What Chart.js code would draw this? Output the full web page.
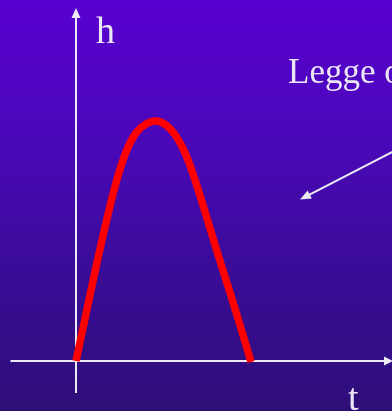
<!DOCTYPE html>
<html>
<head>
<meta charset="utf-8">
<script src="https://cdn.jsdelivr.net/npm/chart.js@4/dist/chart.umd.min.js"></script>
<style>
html,body{margin:0;padding:0;width:392px;height:411px;overflow:hidden;}
body{background:linear-gradient(to bottom,#5800d0 0%,#4a08b8 35%,#3a0c98 65%,#2e0e78 100%);position:relative;font-family:"Liberation Serif","DejaVu Serif",serif;color:#ebe6f5;}
#wrap{position:absolute;left:0;top:0;width:392px;height:411px;}
.lbl{position:absolute;line-height:1;white-space:nowrap;}
</style>
</head>
<body>
<div id="wrap"><canvas id="c" width="392" height="411"></canvas></div>
<div class="lbl" style="left:96px;top:11px;font-size:38px;">h</div>
<div class="lbl" style="left:348px;top:378px;font-size:38px;">t</div>
<div class="lbl" style="left:288px;top:54px;font-size:35px;">Legge oraria</div>
<script>
// time values (arbitrary units) and height values of the curve
const tValues = [0, 1, 2, 3, 4, 5, 6, 7, 8, 9, 10, 11, 12, 13, 14, 15, 16, 17, 17.5];
const hValues = [0, 4.7, 9.4, 13.8, 17.8, 20.9, 22.8, 23.7, 24.0, 23.6, 22.5, 20.6, 17.8, 14.6, 11.3, 8.1, 4.9, 1.6, -0.1];

const points = tValues.map((t, i) => ({x: t, y: hValues[i]}));

const axesPlugin = {
  id: 'axesArrows',
  beforeDatasetsDraw(chart) {
    const ctx = chart.ctx;
    const xs = chart.scales.x, ys = chart.scales.y;
    const ox = xs.getPixelForValue(0), oy = ys.getPixelForValue(0);
    const W = chart.width;
    ctx.save();
    ctx.strokeStyle = '#ecebf4';
    ctx.fillStyle = '#ecebf4';
    ctx.lineWidth = 2;
    // y axis
    ctx.beginPath();
    ctx.moveTo(ox, oy + 32);
    ctx.lineTo(ox, 17);
    ctx.stroke();
    ctx.beginPath();
    ctx.moveTo(ox, 8);
    ctx.lineTo(ox - 4.5, 18);
    ctx.lineTo(ox + 4.5, 18);
    ctx.closePath();
    ctx.fill();
    // x axis
    ctx.beginPath();
    ctx.moveTo(10.5, oy);
    ctx.lineTo(W - 8, oy);
    ctx.stroke();
    ctx.beginPath();
    ctx.moveTo(W + 1, oy);
    ctx.lineTo(W - 8, oy - 4.5);
    ctx.lineTo(W - 8, oy + 4.5);
    ctx.closePath();
    ctx.fill();
    // pointer arrow
    const x1 = 393, y1 = 151.5, x2 = 300, y2 = 199.5;
    const ang = Math.atan2(y2 - y1, x2 - x1);
    ctx.beginPath();
    ctx.moveTo(x1, y1);
    ctx.lineTo(x2 - Math.cos(ang) * 8, y2 - Math.sin(ang) * 8);
    ctx.stroke();
    ctx.beginPath();
    ctx.moveTo(x2, y2);
    ctx.lineTo(x2 - Math.cos(ang) * 11 + Math.sin(ang) * 4.5, y2 - Math.sin(ang) * 11 - Math.cos(ang) * 4.5);
    ctx.lineTo(x2 - Math.cos(ang) * 11 - Math.sin(ang) * 4.5, y2 - Math.sin(ang) * 11 + Math.cos(ang) * 4.5);
    ctx.closePath();
    ctx.fill();
    ctx.restore();
  }
};

new Chart(document.getElementById('c'), {
  type: 'line',
  data: {
    datasets: [{
      data: points,
      borderColor: '#ff0000',
      borderWidth: 7.5,
      borderCapStyle: 'butt',
      borderJoinStyle: 'round',
      pointRadius: 0,
      tension: 0.4,
      fill: false
    }]
  },
  options: {
    responsive: false,
    animation: false,
    devicePixelRatio: 1,
    layout: {padding: 0},
    plugins: {legend: {display: false}, tooltip: {enabled: false}},
    scales: {
      x: {type: 'linear', min: -7.6, max: 31.6, display: false},
      y: {type: 'linear', min: -5.0, max: 36.1, display: false}
    }
  },
  plugins: [axesPlugin]
});
</script>
</body>
</html>
